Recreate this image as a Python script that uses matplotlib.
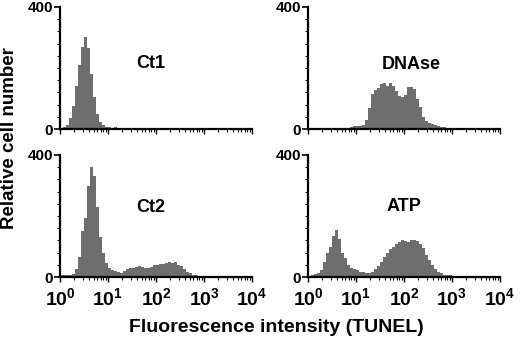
import matplotlib
matplotlib.use("Agg")
import matplotlib.pyplot as plt
import numpy as np
from matplotlib.ticker import LogLocator, MultipleLocator, NullFormatter

plt.rcParams["font.family"] = ["Liberation Sans", "DejaVu Sans"]
plt.rcParams["mathtext.fontset"] = "custom"
plt.rcParams["mathtext.rm"] = "Liberation Sans"
plt.rcParams["mathtext.bf"] = "Liberation Sans:bold"

# histogram counts, 16 bins per decade from 10^0 to 10^4
ct1 = [3, 8, 13, 36, 75, 140, 210, 268, 300, 265, 180, 105, 50, 22, 12, 8,
       6, 4, 5, 3, 4, 3, 2, 3, 2, 2, 1, 2, 1, 1, 2, 1,
       1, 1, 1, 2, 1, 1, 1, 1, 1, 1, 1, 0, 1, 1, 0, 1,
       1, 0, 1, 0, 1, 0, 0, 1, 0, 1, 0, 0, 1, 0, 0, 0]
dnase = [2, 1, 1, 1, 1, 0, 0, 1, 1, 1, 2, 2, 3, 4, 6, 9,
         10, 10, 14, 30, 70, 115, 128, 135, 148, 150, 142, 150, 140, 125, 108, 106,
         112, 138, 138, 132, 100, 72, 38, 25, 20, 16, 12, 9, 8, 5, 3, 2,
         1, 1, 1, 0, 1, 0, 0, 1, 0, 0, 0, 0, 0, 0, 0, 0]
ct2 = [5, 5, 8, 8, 10, 25, 65, 150, 195, 300, 360, 330, 230, 130, 80, 45,
       30, 24, 20, 16, 12, 20, 26, 28, 30, 34, 36, 33, 30, 30, 34, 38,
       40, 42, 44, 46, 48, 46, 48, 40, 36, 26, 18, 12, 8, 5, 3, 2,
       2, 1, 1, 1, 1, 0, 1, 1, 0, 1, 0, 1, 0, 0, 1, 0]
atp = [3, 6, 10, 14, 22, 50, 80, 100, 135, 155, 125, 80, 62, 40, 30, 25,
       22, 18, 15, 13, 13, 16, 25, 35, 50, 65, 80, 92, 100, 108, 115, 120,
       118, 115, 122, 120, 118, 108, 95, 72, 55, 40, 25, 18, 12, 8, 6, 6,
       4, 2, 1, 1, 1, 1, 0, 1, 0, 1, 0, 0, 1, 0, 0, 0]

panels = [("Ct1", ct1), ("DNAse", dnase), ("Ct2", ct2), ("ATP", atp)]
label_pos = [(0.474, 0.54), (0.54, 0.53), (0.474, 0.57), (0.5, 0.577)]
decades = [0, 1, 2, 3, 4]
edges = np.logspace(0, 4, 65)

fig = plt.figure(figsize=(5.2, 3.48), dpi=100, facecolor="white")
rects = [(0.1154, 0.6293, 0.3692, 0.3506), (0.5923, 0.6293, 0.3692, 0.3506),
         (0.1154, 0.2040, 0.3692, 0.3506), (0.5923, 0.2040, 0.3692, 0.3506)]

for k, ((name, vals), rect, lp) in enumerate(zip(panels, rects, label_pos)):
    ax = fig.add_axes(rect)
    y = np.append(vals, vals[-1])
    ax.fill_between(edges, y, 0, step="post", facecolor="#6e6e6e",
                    edgecolor="none", linewidth=0, antialiased=False)
    ax.set_xscale("log")
    ax.set_xlim(1, 1e4)
    ax.set_ylim(0, 400)
    for s in ("top", "right"):
        ax.spines[s].set_visible(False)
    for s in ("left", "bottom"):
        ax.spines[s].set_linewidth(1.6)

    ax.set_yticks([0, 400])
    ax.set_yticklabels(["0", "400"], fontsize=11, fontweight="bold")
    ax.yaxis.set_minor_locator(MultipleLocator(40))
    ax.tick_params(axis="y", which="major", length=4, width=1.2, pad=1)
    ax.tick_params(axis="y", which="minor", length=2, width=0.8)

    ax.xaxis.set_minor_locator(LogLocator(base=10, subs=np.arange(2, 10), numticks=10))
    ax.xaxis.set_minor_formatter(NullFormatter())
    ax.tick_params(axis="x", which="major", length=3.5, width=1.0, pad=4)
    ax.tick_params(axis="x", which="minor", length=2, width=0.8)
    ax.set_xticks([10.0 ** d for d in decades])
    if k >= 2:
        ax.set_xticklabels([r"$\mathbf{10^{%d}}$" % d for d in decades],
                           fontsize=14)
    else:
        ax.set_xticklabels([])

    ax.text(lp[0], lp[1], name, transform=ax.transAxes, ha="center",
            va="center", fontsize=13, fontweight="bold")

fig.text(0.531, 0.06, "Fluorescence intensity (TUNEL)", ha="center",
         va="center", fontsize=14, fontweight="bold")
fig.text(0.018, 0.603, "Relative cell number", ha="center", va="center",
         rotation=90, fontsize=13.5, fontweight="bold")

fig.savefig("out.png", dpi=100, facecolor="white")
